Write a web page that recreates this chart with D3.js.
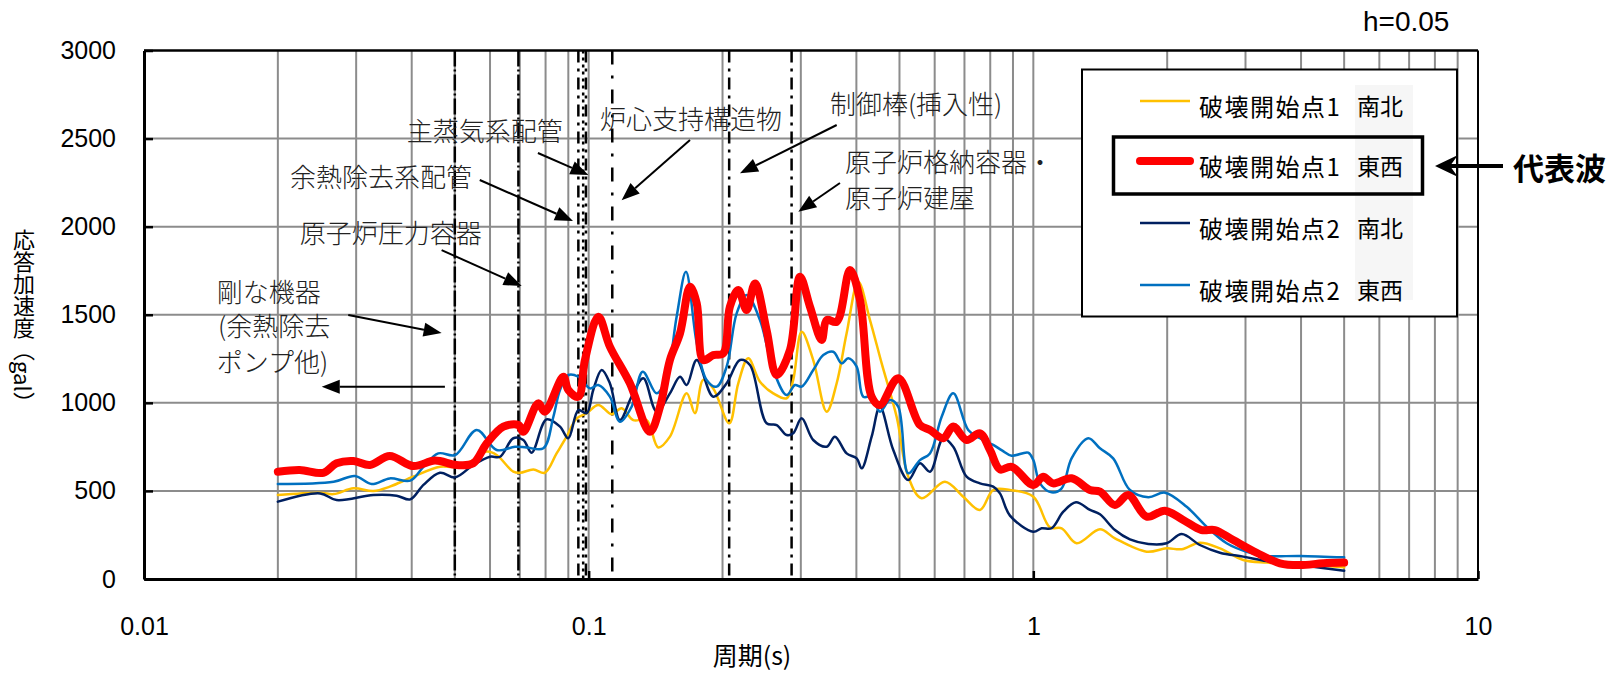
<!DOCTYPE html>
<html>
<head>
<meta charset="utf-8">
<script src="https://cdn.jsdelivr.net/npm/d3@7"></script>
<style>
  html, body { margin: 0; padding: 0; background: #fff; }
  svg { display: block; }
</style>
</head>
<body>
<svg id="chart" width="1619" height="677"></svg>
<script>
// ---- Response spectra (h = 0.05): period [s] and response acceleration [gal] ----
const periodNS1 = [0.020,0.0249,0.0267,0.0296,0.0328,0.0357,0.0403,0.0463,0.0501,0.0550,0.0590,0.0621,0.0677,0.0701,0.0751,0.0797,0.0847,0.0892,0.0940,0.0990,0.1051,0.1127,0.1186,0.1260,0.1350,0.1434,0.1523,0.1661,0.1734,0.1810,0.1906,0.2071,0.2170,0.2285,0.2428,0.2601,0.2788,0.2884,0.3013,0.3199,0.3430,0.3612,0.3803,0.4040,0.4292,0.4560,0.4927,0.5232,0.5608,0.6327,0.6956,0.7585,0.8125,0.8860,1.000,1.090,1.158,1.251,1.412,1.526,1.798,1.994,2.156,2.369,2.628,2.965,3.346,3.977,5.0];
const accelNS1  = [477,490,482,515,499,524,581,637,637,675,723,704,609,603,622,603,713,808,912,941,988,935,969,902,902,747,808,1054,941,1130,1082,884,1111,1253,1120,1054,1026,1130,1404,1243,950,1111,1395,1688,1470,1224,921,581,458,552,467,392,505,505,467,293,288,203,282,231,155,174,169,206,174,108,93,85,66];

const periodEW1 = [0.020,0.0224,0.0253,0.0271,0.0296,0.0322,0.0357,0.0403,0.0451,0.0505,0.0550,0.0590,0.0643,0.0695,0.0713,0.0770,0.0797,0.0877,0.0900,0.0948,0.0981,0.1051,0.1116,0.1238,0.1373,0.1447,0.1523,0.1605,0.1690,0.1750,0.1810,0.1906,0.2008,0.2078,0.2170,0.2266,0.2366,0.2513,0.2647,0.2836,0.2987,0.3145,0.3342,0.3430,0.3612,0.3869,0.4075,0.4329,0.4519,0.4968,0.5559,0.5855,0.6272,0.6606,0.7079,0.7585,0.7988,0.8413,0.8938,1.000,1.052,1.108,1.219,1.341,1.412,1.526,1.635,1.798,1.977,2.173,2.390,2.561,2.816,3.178,3.585,3.977,4.487,5.0];
const accelEW1  = [609,619,603,657,670,647,698,641,672,647,657,770,865,874,836,997,950,1148,1073,1035,1243,1489,1319,1111,836,978,1243,1395,1659,1565,1243,1271,1281,1546,1640,1527,1678,1413,1158,1300,1716,1546,1357,1470,1460,1754,1584,1035,988,1139,874,846,799,865,789,827,732,622,637,534,581,543,572,505,496,420,477,354,388,335,278,278,221,149,89,79,89,93];

const periodNS2 = [0.020,0.0249,0.0271,0.0328,0.0370,0.0397,0.0425,0.0463,0.0501,0.0550,0.0600,0.0632,0.0677,0.0713,0.0744,0.0804,0.0862,0.0900,0.0948,0.0990,0.1024,0.1070,0.1116,0.1176,0.1249,0.1327,0.1422,0.1523,0.1605,0.1661,0.1750,0.1906,0.2043,0.2189,0.2305,0.2513,0.2647,0.2788,0.2884,0.3013,0.3199,0.3430,0.3579,0.3803,0.4006,0.4111,0.4329,0.4519,0.4842,0.5232,0.5559,0.5855,0.6272,0.6606,0.7079,0.7585,0.8125,0.8413,0.886,1.000,1.044,1.099,1.168,1.247,1.341,1.412,1.526,1.649,1.814,1.994,2.156,2.369,2.628,2.965,3.346,3.977,5.0];
const accelNS2  = [439,486,448,477,473,452,534,603,577,647,694,694,799,789,717,906,865,799,959,941,1073,1186,1111,902,1035,1139,950,1054,1148,1101,1243,1035,1111,1243,1215,884,874,817,827,912,789,751,808,713,685,628,808,978,732,562,657,609,799,751,581,543,524,486,360,268,288,288,382,435,392,367,278,225,199,203,255,193,149,127,102,79,47];

const periodEW2 = [0.020,0.0267,0.0298,0.0325,0.0357,0.0397,0.0425,0.0459,0.0501,0.0560,0.0621,0.0683,0.0725,0.0791,0.0833,0.0862,0.0900,0.0948,0.1007,0.1051,0.1116,0.1176,0.1249,0.1323,0.1422,0.1498,0.1577,0.1655,0.1750,0.1842,0.1940,0.2043,0.2152,0.2266,0.2428,0.2601,0.2788,0.2910,0.3013,0.3199,0.3370,0.3548,0.3706,0.3835,0.4006,0.4145,0.4329,0.4519,0.4759,0.4968,0.5232,0.5559,0.5855,0.6221,0.6606,0.7138,0.7585,0.8125,0.850,0.894,0.9739,1.000,1.035,1.099,1.158,1.219,1.329,1.412,1.512,1.649,1.814,1.977,2.212,2.453,2.721,3.018,3.346,3.977,5.0];
const accelEW2  = [539,552,585,539,571,558,637,713,704,846,732,751,747,742,921,1073,1158,1148,1082,1101,1035,893,978,1177,1054,1148,1489,1744,1338,1130,1092,1205,1508,1612,1470,1186,1044,1101,1092,1186,1271,1290,1224,1253,1205,1035,1035,950,1016,978,600,675,713,921,1054,846,799,761,730,700,717,675,543,492,515,685,799,742,685,505,464,490,410,297,203,155,131,131,123];

// legend labels
const seriesNames = ["破壊開始点1", "破壊開始点1", "破壊開始点2", "破壊開始点2"];
const seriesDirs  = ["南北", "東西", "南北", "東西"];

// axis ticks
const xTickValues = [0.01, 0.1, 1, 10];
const xTickLabels = ["0.01", "0.1", "1", "10"];
const yTickValues = [0, 500, 1000, 1500, 2000, 2500, 3000];

// natural periods of the evaluated facilities [s]
const facilityPeriods = [0.05, 0.0695, 0.0948, 0.0972, 0.0986, 0.113, 0.207, 0.286];

// ---- styles ----
const seriesStyle = [
  { color: "#ffc000", width: 2.5 },
  { color: "#ff0000", width: 8 },
  { color: "#002060", width: 2.5 },
  { color: "#0070c0", width: 2.5 }
];
const JP = "'Noto Sans CJK JP', 'Noto Sans', sans-serif";
const NUM = "'Liberation Sans', Arial, sans-serif";

const series = [
  { p: periodNS1, a: accelNS1 },
  { p: periodEW1, a: accelEW1 },
  { p: periodNS2, a: accelNS2 },
  { p: periodEW2, a: accelEW2 }
];

const svg = d3.select("#chart");
svg.append("rect").attr("width", 1619).attr("height", 677).attr("fill", "#fff");

const x = d3.scaleLog().domain([0.01, 10]).range([144, 1478]);
const y = d3.scaleLinear().domain([0, 3000]).range([579, 50.5]);

// ---- grid ----
const grid = svg.append("g").attr("stroke", "#8c8c8c").attr("stroke-width", 2);
x.ticks().filter(v => v > 0.0101 && v < 9.99).forEach(v => {
  grid.append("line").attr("x1", x(v)).attr("x2", x(v)).attr("y1", y(3000)).attr("y2", y(0));
});
yTickValues.filter(v => v > 0 && v < 3000).forEach(v => {
  grid.append("line").attr("x1", x(0.01)).attr("x2", x(10)).attr("y1", y(v)).attr("y2", y(v));
});

// ---- facility period lines ----
const dashStyles = ["16,3,2,3", "16,3,2,3", "12,6,3,6", "3,4", "12,6,3,6", "14,11,3,11", "12,6,3,6", "12,6,3,6"];
facilityPeriods.forEach((p, i) => {
  svg.append("line")
    .attr("x1", x(p)).attr("x2", x(p)).attr("y1", y(3000)).attr("y2", y(0))
    .attr("stroke", "#000").attr("stroke-width", 2.5)
    .attr("stroke-dasharray", dashStyles[i]);
});

// ---- axes ----
const xAxis = svg.append("g").attr("transform", `translate(0,${y(0)})`)
  .call(d3.axisBottom(x).tickValues(xTickValues).tickFormat((d, i) => xTickLabels[i])
    .tickSizeInner(-8).tickSizeOuter(0).tickPadding(38));
xAxis.select(".domain").attr("stroke", "#000").attr("stroke-width", 3);
xAxis.selectAll(".tick line").attr("stroke", "#000").attr("stroke-width", 2.5);
xAxis.selectAll("text").attr("font-family", NUM).attr("font-size", 25).attr("fill", "#000");

const yAxis = svg.append("g").attr("transform", `translate(${x(0.01)},0)`)
  .call(d3.axisLeft(y).tickValues(yTickValues).tickFormat(d3.format("d"))
    .tickSizeInner(-9).tickSizeOuter(0).tickPadding(28));
yAxis.select(".domain").attr("stroke", "#000").attr("stroke-width", 3);
yAxis.selectAll(".tick line").attr("stroke", "#000").attr("stroke-width", 2.5);
yAxis.selectAll("text").attr("font-family", NUM).attr("font-size", 25).attr("fill", "#000");

// top and right frame
svg.append("line").attr("x1", x(0.01)).attr("x2", x(10)).attr("y1", y(3000)).attr("y2", y(3000))
  .attr("stroke", "#000").attr("stroke-width", 2.5);
svg.append("line").attr("x1", x(10)).attr("x2", x(10)).attr("y1", y(3000)).attr("y2", y(0))
  .attr("stroke", "#000").attr("stroke-width", 2);

// ---- spectra ----
const line = d3.line().x(d => x(d[0])).y(d => y(d[1])).curve(d3.curveCatmullRom.alpha(0.5));
[0, 2, 3, 1].forEach(i => {
  const s = series[i];
  svg.append("path")
    .datum(s.p.map((p, k) => [p, s.a[k]]))
    .attr("d", line)
    .attr("fill", "none")
    .attr("stroke", seriesStyle[i].color)
    .attr("stroke-width", seriesStyle[i].width)
    .attr("stroke-linejoin", "round")
    .attr("stroke-linecap", "round");
});

// ---- annotations ----
function arrow(x1, y1, x2, y2, len = 18, half = 7) {
  const ang = Math.atan2(y2 - y1, x2 - x1);
  const bx = x2 - len * Math.cos(ang), by = y2 - len * Math.sin(ang);
  const px = -Math.sin(ang) * half, py = Math.cos(ang) * half;
  svg.append("line").attr("x1", x1).attr("y1", y1).attr("x2", bx).attr("y2", by)
    .attr("stroke", "#000").attr("stroke-width", 2);
  svg.append("polygon")
    .attr("points", `${x2},${y2} ${bx + px},${by + py} ${bx - px},${by - py}`)
    .attr("fill", "#000");
}

const notes = [
  { t: "主蒸気系配管",     p: 0.0390, a: 2549 },
  { t: "余熱除去系配管",   p: 0.0213, a: 2293 },
  { t: "原子炉圧力容器",   p: 0.0224, a: 1970 },
  { t: "剛な機器",         p: 0.01457, a: 1640 },
  { t: "(余熱除去",        p: 0.01467, a: 1442 },
  { t: "ポンプ他)",        p: 0.01457, a: 1243 },
  { t: "炉心支持構造物",   p: 0.1060, a: 2617 },
  { t: "制御棒(挿入性)",   p: 0.3488, a: 2707 },
  { t: "原子炉格納容器・", p: 0.3771, a: 2373 },
  { t: "原子炉建屋",       p: 0.3771, a: 2174 }
];
notes.forEach(n => {
  svg.append("text").attr("x", x(n.p)).attr("y", y(n.a))
    .attr("dominant-baseline", "central")
    .attr("font-family", JP).attr("font-size", 26).attr("font-weight", 300)
    .attr("fill", "#222").text(n.t);
});

const pointers = [
  [0.0288, 1498, 0.0467, 1396],
  [0.0475, 1092, 0.0251, 1092],
  [0.0467, 1867, 0.0707, 1663],
  [0.0569, 2265, 0.0922, 2032],
  [0.0769, 2418, 0.0999, 2293],
  [0.1690, 2492, 0.1186, 2150],
  [0.3612, 2577, 0.2189, 2303],
  [0.3674, 2248, 0.2961, 2085]
];
pointers.forEach(d => arrow(x(d[0]), y(d[1]), x(d[2]), y(d[3])));

// ---- damping note ----
svg.append("text").attr("x", 1363).attr("y", 31)
  .attr("font-family", NUM).attr("font-size", 28).attr("fill", "#000").text("h=0.05");

// ---- axis titles ----
svg.append("text").attr("x", 752).attr("y", 654)
  .attr("text-anchor", "middle").attr("dominant-baseline", "central")
  .attr("font-family", JP).attr("font-size", 25).attr("fill", "#000").text("周期(s)");

svg.append("text").attr("x", 24).attr("y", 229)
  .style("writing-mode", "vertical-rl")
  .attr("font-family", JP).attr("font-size", 22).attr("fill", "#000").text("応答加速度（gal）");

// ---- legend ----
const lg = svg.append("g");
lg.append("rect").attr("x", 1082).attr("y", 69.5).attr("width", 375).attr("height", 247)
  .attr("fill", "#fff").attr("stroke", "#000").attr("stroke-width", 2);
lg.append("rect").attr("x", 1355).attr("y", 85).attr("width", 58).attr("height", 215).attr("fill", "#f6f6f6");
const rowY = [101, 161, 223, 285];
seriesNames.forEach((name, i) => {
  lg.append("line").attr("x1", 1140).attr("x2", 1190).attr("y1", rowY[i]).attr("y2", rowY[i])
    .attr("stroke", seriesStyle[i].color)
    .attr("stroke-width", i === 1 ? 8 : 2.5)
    .attr("stroke-linecap", i === 1 ? "round" : "butt");
  lg.append("text").attr("x", 1199).attr("y", rowY[i] + 4)
    .attr("dominant-baseline", "central").attr("letter-spacing", 1.5)
    .attr("font-family", JP).attr("font-size", 24).attr("fill", "#000").text(name);
  lg.append("text").attr("x", 1357).attr("y", rowY[i] + 4)
    .attr("dominant-baseline", "central")
    .attr("font-family", JP).attr("font-size", 23).attr("fill", "#000").text(seriesDirs[i]);
});
lg.append("rect").attr("x", 1113.5).attr("y", 137).attr("width", 309).attr("height", 57)
  .attr("fill", "none").attr("stroke", "#000").attr("stroke-width", 3.5);

// representative wave marker
svg.append("line").attr("x1", 1503).attr("x2", 1448).attr("y1", 166).attr("y2", 166)
  .attr("stroke", "#000").attr("stroke-width", 4);
svg.append("polygon").attr("points", "1435,166 1458,155 1450,166 1458,177").attr("fill", "#000");
svg.append("text").attr("x", 1513).attr("y", 166).attr("dominant-baseline", "central")
  .attr("font-family", JP).attr("font-size", 31).attr("font-weight", 700)
  .attr("fill", "#000").text("代表波");
</script>
</body>
</html>
